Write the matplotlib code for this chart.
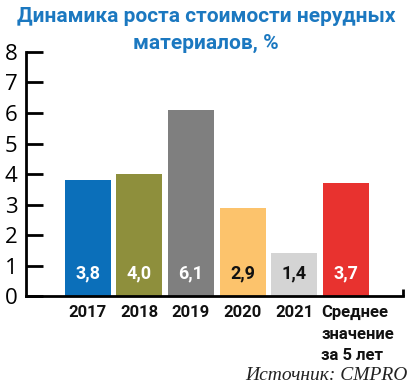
import matplotlib
matplotlib.use("Agg")
import matplotlib.pyplot as plt

# data
categories = ["2017", "2018", "2019", "2020", "2021", "Среднее\nзначение\nза 5 лет"]
values = [3.8, 4.0, 6.1, 2.9, 1.4, 3.7]
value_labels = ["3,8", "4,0", "6,1", "2,9", "1,4", "3,7"]
bar_colors = ["#0b6fba", "#8e8f3c", "#7f7f7f", "#fcc36c", "#d4d4d4", "#e8322f"]
label_colors = ["white", "white", "white", "#111111", "#111111", "white"]

title = "Динамика роста стоимости нерудных\nматериалов, %"
source = "Источник: CMPRO"

fig = plt.figure(figsize=(4.1, 3.88), dpi=100)
ax = fig.add_axes([0.0634, 0.237, 0.9195, 0.629])

x = list(range(len(values)))
ax.bar(x, values, width=0.89, color=bar_colors)

# value labels inside bars
for xi, lab, c in zip(x, value_labels, label_colors):
    ax.text(xi, 0.75, lab, ha="center", va="center", color=c,
            fontsize=13, fontweight="bold", family="Roboto")

ax.set_xlim(-1.19, 6.1)
ax.set_ylim(0, 8)
ax.set_yticks(range(0, 9))
ax.tick_params(axis="y", direction="in", length=12, width=2, pad=6,
               labelsize=16, labelfontfamily="Open Sans")
ax.set_xticks(x)
ax.set_xticklabels([])
ax.tick_params(axis="x", length=0)
ax.set_xticks([6.1], minor=True)
ax.tick_params(axis="x", which="minor", direction="in", length=5, width=2)

for xi, cat in zip(x, categories):
    if "\n" in cat:
        ax.text(xi - 0.48, -0.3, cat, ha="left", va="top", fontsize=12,
                fontweight="bold", family="Roboto", linespacing=1.55,
                color="#111111")
    else:
        ax.text(xi, -0.3, cat, ha="center", va="top", fontsize=12,
                fontweight="bold", family="Roboto", color="#111111")

for s in ["top", "right"]:
    ax.spines[s].set_visible(False)
ax.spines["left"].set_linewidth(2)
ax.spines["bottom"].set_linewidth(2)

fig.text(0.503, 0.983, title, ha="center", va="top", fontsize=15,
         fontweight="bold", family="Roboto", color="#1b78c0", linespacing=1.55)
fig.text(0.995, 0.01, source, ha="right", va="bottom", fontsize=14,
         style="italic", family="Liberation Serif", color="#222222")

fig.savefig("out.png", dpi=100)
